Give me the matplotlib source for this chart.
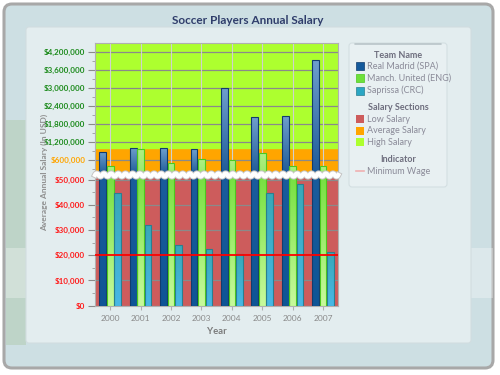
import numpy as np
import matplotlib
matplotlib.use("Agg")
import matplotlib.pyplot as plt
from matplotlib.patches import Rectangle, FancyBboxPatch
from matplotlib.colors import LinearSegmentedColormap
from matplotlib.ticker import FuncFormatter, MultipleLocator

plt.rcParams['font.family'] = ['Lato', 'DejaVu Sans']

# data
years = ['2000', '2001', '2002', '2003', '2004', '2005', '2006', '2007']
real_madrid = [880000, 1010000, 990000, 965000, 3010000, 2020000, 2070000, 3940000]
manch_united = [410000, 975000, 510000, 635000, 600000, 845000, 410000, 410000]
saprissa = [44800, 32000, 24100, 22400, 20600, 44800, 48200, 21400]
teams = ['Real Madrid (SPA)', 'Manch. United (ENG)', 'Saprissa (CRC)']
team_colors = ['#145a9c', '#6ee03a', '#2aa6c4']
team_edges = ['#123c6e', '#4cc81e', '#2a7f90']
sections = ['Low Salary', 'Average Salary', 'High Salary']
section_colors = ['#cd5c5c', '#ffa500', '#adff2f']
section_limits = [0, 52000, 1000000, 4490000]
minimum_wage = 20000

# bar shading, (top colour, bottom colour) per team for upper / lower part
shade_top = [('#6f9fcd', '#1c5a98'), ('#b0f084', '#9ce86c'), ('#3aa6b4', '#3aa6b4')]
shade_low = [('#1a5c9c', '#0f5596'), ('#76e040', '#c8fa9c'), ('#38a8b8', '#48b8e6')]

W, H = 500, 375
fig = plt.figure(figsize=(5, 3.75), dpi=100)
fig.patch.set_facecolor('white')

# background frame
bg = fig.add_axes([0, 0, 1, 1], zorder=-10)
bg.set_xlim(0, W)
bg.set_ylim(H, 0)
bg.axis('off')
bg.add_patch(FancyBboxPatch((4, 4), 489, 364, boxstyle='round,pad=0,rounding_size=8',
                            fc='#cddfe3', ec='#a8a8a8', lw=2.2))
bg.add_patch(Rectangle((6, 120), 20, 225, fc='#b4ceb6', ec='none', alpha=0.6))
bg.add_patch(Rectangle((6, 248), 487, 50, fc='white', ec='none', alpha=0.3))
bg.add_patch(FancyBboxPatch((26, 27), 445, 316, boxstyle='round,pad=0,rounding_size=3',
                            fc='#e3edef', ec='#d2dde0', lw=0.8))
bg.add_patch(FancyBboxPatch((349, 43), 98, 144, boxstyle='round,pad=0,rounding_size=3',
                            fc='#e8f0f2', ec='#d4dfe2', lw=0.8))
bg.plot([355, 441], [43.5, 43.5], color='#b8c4c8', lw=1.2, solid_capstyle='round')
bg.text(248, 21, 'Soccer Players Annual Salary', ha='center', va='center',
        fontsize=8.5, fontweight='bold', color='#2f3d6b')

left, width = 95 / W, 243.3 / W
ax_top = fig.add_axes([left, (H - 175) / H, width, 131.7 / H])
ax_low = fig.add_axes([left, (H - 305.7) / H, width, 130.7 / H])
ax_top.set_ylim(100000, 4490000)
ax_low.set_ylim(0, 51865)


def shaded_bars(ax, xs, vals, width, shades, edge):
    y0, y1 = ax.get_ylim()
    cmap = LinearSegmentedColormap.from_list('g', [shades[1], shades[0]])
    grad = np.linspace(0, 1, 64).reshape(-1, 1)
    bars = ax.bar(xs, vals, width=width, color='none', edgecolor=edge, lw=0.8, zorder=4)
    for b in bars:
        top = min(b.get_height(), y1)
        if top <= y0:
            continue
        im = ax.imshow(grad, cmap=cmap, origin='lower', aspect='auto', zorder=3,
                       extent=[b.get_x(), b.get_x() + b.get_width(), y0, top])
        im.set_clip_path(b)


x = np.arange(len(years))
bw = 0.22
off = 0.245
for ax, shades in ((ax_top, shade_top), (ax_low, shade_low)):
    ylim = ax.get_ylim()
    for lo, hi, c in zip(section_limits[:-1], section_limits[1:], section_colors):
        ax.axhspan(lo, hi, color=c, zorder=0)
    for xi in x:
        ax.axvline(xi, color='#d0d0d0', lw=0.8, zorder=1)
    ax.grid(axis='y', color='#8a8a8a', lw=0.9)
    ax.set_axisbelow(True)
    for vals, k, sh, ec in zip([real_madrid, manch_united, saprissa], [-1, 0, 1],
                                shades, team_edges):
        shaded_bars(ax, x + k * off, vals, bw, sh, ec)
    ax.set_xlim(-0.5, len(years) - 0.5)
    ax.set_ylim(ylim)
    for s in ax.spines.values():
        s.set_color('#b0b0b0')
        s.set_linewidth(0.8)
    ax.tick_params(axis='y', length=5, color='#8a8a8a', labelsize=5.8, pad=2)
    ax.tick_params(axis='y', which='minor', length=2.5, color='#9a9a9a')

ax_low.axhline(minimum_wage, color='#ff0000', lw=1.3, zorder=6)

ax_top.spines['bottom'].set_visible(False)
ax_low.spines['top'].set_visible(False)
ax_top.set_xticks([])
ax_top.yaxis.set_major_locator(MultipleLocator(600000))
ax_top.yaxis.set_minor_locator(MultipleLocator(300000))
ax_low.yaxis.set_major_locator(MultipleLocator(10000))
ax_low.yaxis.set_minor_locator(MultipleLocator(5000))
fmt = FuncFormatter(lambda v, p: '${:,.0f}'.format(v))
ax_top.yaxis.set_major_formatter(fmt)
ax_low.yaxis.set_major_formatter(fmt)
fig.canvas.draw()
for lab in ax_top.get_yticklabels():
    lab.set_fontweight('bold')
    lab.set_color('#ffa500' if lab.get_text() == '$600,000' else '#1b8a1b')
for lab in ax_low.get_yticklabels():
    lab.set_fontweight('bold')
    lab.set_color('#ff1a1a')

ax_low.set_xticks(x)
ax_low.set_xticklabels(years)
ax_low.tick_params(axis='x', length=3, color='#b0b0b0', labelsize=6, labelcolor='#8a8a8a', pad=4)

# scale break wave
t = np.linspace(0, 1, 600)
wave = 1 + 0.012 * np.sign(np.sin(t * 2 * np.pi * 34)) * np.abs(np.sin(t * 2 * np.pi * 34)) ** 0.6
ax_low.plot(t, wave, transform=ax_low.transAxes, color='#c4c4c4', lw=4.4, clip_on=False, zorder=10)
ax_low.plot(t, wave, transform=ax_low.transAxes, color='white', lw=3.0, clip_on=False, zorder=11)

fig.text(216.5 / W, 1 - 331 / H, 'Year', ha='center', va='center', fontsize=6.8,
         fontweight='bold', color='#7a7a7a')
fig.text(44 / W, 1 - 172 / H, 'Average Annual Salary (In USD)', ha='center', va='center',
         rotation=90, fontsize=6, fontweight='bold', color='#8e8e8e')

# legend
hdr = dict(ha='center', va='center', fontsize=6.5, fontweight='bold', color='#6e6e7e')
ent = dict(ha='left', va='center', fontsize=6.5, color='#8a8a98')
bg.text(398, 55, 'Team Name', **hdr)
for i, (lab, c) in enumerate(zip(teams, team_colors)):
    yy = 66 + i * 12.3
    bg.add_patch(Rectangle((356, yy - 4), 8, 8, fc=c, ec=team_edges[i], lw=0.5))
    bg.text(367, yy, lab, **ent)
bg.text(398, 107, 'Salary Sections', **hdr)
for i, (lab, c) in enumerate(zip(sections, section_colors)):
    yy = 119 + i * 11.7
    bg.add_patch(Rectangle((356, yy - 4), 8, 8, fc=c, ec='none'))
    bg.text(367, yy, lab, **ent)
bg.text(398, 159, 'Indicator', **hdr)
bg.plot([356, 364], [171, 171], color='#f0b0b0', lw=1.2)
bg.text(367, 171, 'Minimum Wage', **ent)

fig.savefig('out.png', dpi=100)
